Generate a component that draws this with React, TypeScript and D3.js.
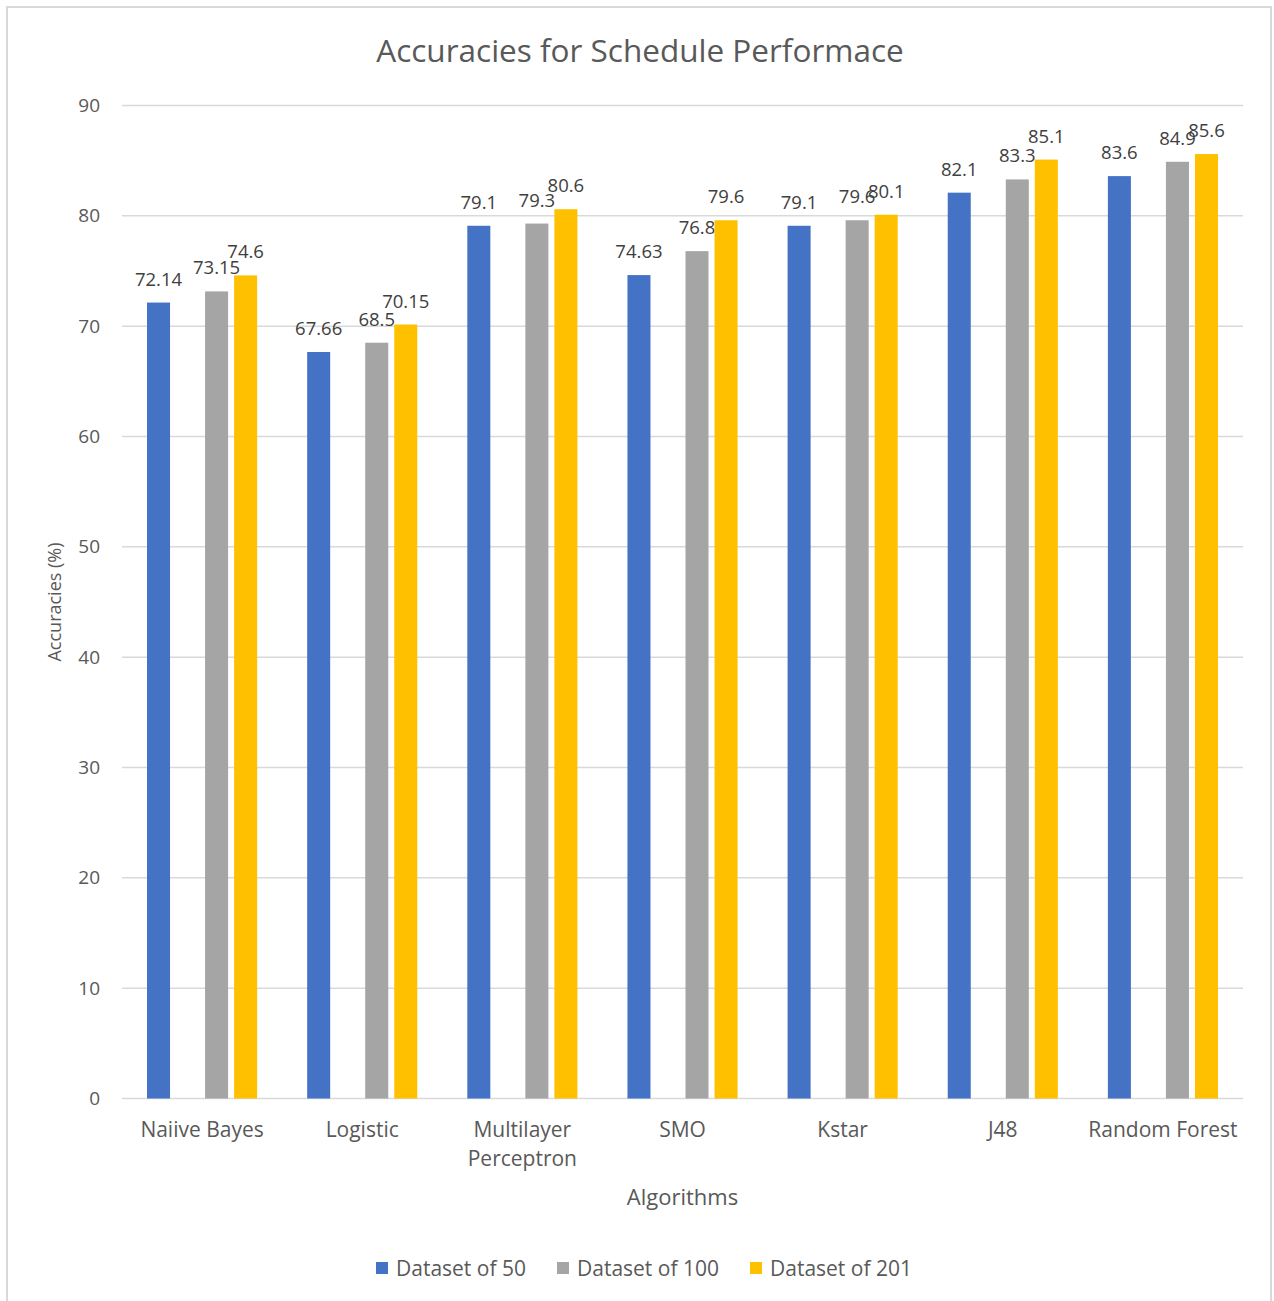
import React from "react";
import * as d3 from "d3";

const categories = [
  ["Naiive Bayes"],
  ["Logistic"],
  ["Multilayer", "Perceptron"],
  ["SMO"],
  ["Kstar"],
  ["J48"],
  ["Random Forest"],
];
const dataset50 = [72.14, 67.66, 79.1, 74.63, 79.1, 82.1, 83.6];
const dataset100 = [73.15, 68.5, 79.3, 76.8, 79.6, 83.3, 84.9];
const dataset201 = [74.6, 70.15, 80.6, 79.6, 80.1, 85.1, 85.6];
const yTicks = [0, 10, 20, 30, 40, 50, 60, 70, 80, 90];

const series = [
  { name: "Dataset of 50", slot: "s50", color: "#4472C4", values: dataset50 },
  { name: "Dataset of 100", slot: "s100", color: "#A5A5A5", values: dataset100 },
  { name: "Dataset of 201", slot: "s201", color: "#FFC000", values: dataset201 },
];
// the original chart keeps an empty series slot between the first two
const slots = ["s50", "empty", "s100", "s201"];

const FONT = "'Open Sans', 'Noto Sans', sans-serif";
const TEXT = "#595959";

export default function App() {
  const width = 1274;
  const height = 1301;
  const left = 122;
  const right = 1243;
  const top = 105.5;
  const bottom = 1098.5;

  const x = d3
    .scaleBand<number>()
    .domain(categories.map((_, i) => i))
    .range([left, right])
    .padding(0);
  const inner = d3
    .scaleBand<string>()
    .domain(slots)
    .range([0, x.bandwidth()])
    .paddingInner(6 / 29)
    .paddingOuter(0.862);
  const y = d3.scaleLinear().domain([0, 90]).range([bottom, top]);

  const legendX = [376, 557, 750];

  return (
    <svg
      width={width}
      height={height}
      style={{ position: "absolute", top: 0, left: 0, background: "#fff" }}
      fontFamily={FONT}
    >
      <rect x={7} y={7} width={1264} height={1300} fill="#fff" stroke="#d9d9d9" strokeWidth={2} />
      <text x={640} y={62} textAnchor="middle" fontSize={31.5} fill={TEXT}>
        Accuracies for Schedule Performace
      </text>

      {yTicks.map((t) => (
        <g key={t}>
          <line x1={left} x2={right} y1={y(t)} y2={y(t)} stroke="#d9d9d9" strokeWidth={1.5} />
          <text x={100} y={y(t)} dy="0.35em" textAnchor="end" fontSize={19} fill={TEXT}>
            {t}
          </text>
        </g>
      ))}

      {series.map((s) => (
        <g key={s.name}>
          {s.values.map((v, i) => {
            const bx = (x(i) as number) + (inner(s.slot) as number);
            return (
              <g key={i}>
                <rect x={bx} y={y(v)} width={inner.bandwidth()} height={y(0) - y(v)} fill={s.color} />
                <text
                  x={bx + inner.bandwidth() / 2}
                  y={y(v) - 17}
                  textAnchor="middle"
                  fontSize={18.5}
                  fill="#404040"
                >
                  {v}
                </text>
              </g>
            );
          })}
        </g>
      ))}

      {categories.map((lines, i) => (
        <text
          key={i}
          x={(x(i) as number) + x.bandwidth() / 2}
          y={1137}
          textAnchor="middle"
          fontSize={21}
          fill={TEXT}
        >
          {lines.map((l, j) => (
            <tspan key={j} x={(x(i) as number) + x.bandwidth() / 2} dy={j === 0 ? 0 : 29}>
              {l}
            </tspan>
          ))}
        </text>
      ))}

      <text x={(left + right) / 2} y={1205} textAnchor="middle" fontSize={22} fill={TEXT}>
        Algorithms
      </text>
      <text
        transform={`translate(61, ${(top + bottom) / 2}) rotate(-90)`}
        textAnchor="middle"
        fontSize={18}
        fill={TEXT}
      >
        Accuracies (%)
      </text>

      {series.map((s, i) => (
        <g key={s.name} transform={`translate(${legendX[i]}, 1262)`}>
          <rect x={0} y={0} width={12} height={12} fill={s.color} />
          <text x={20} y={6} dy="0.36em" fontSize={21} fill={TEXT}>
            {s.name}
          </text>
        </g>
      ))}
    </svg>
  );
}
